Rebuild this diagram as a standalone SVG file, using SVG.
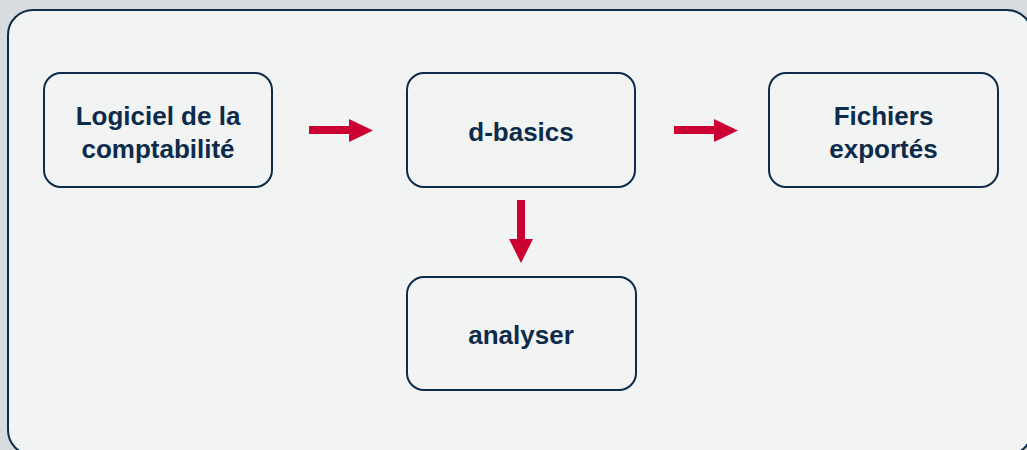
<svg xmlns="http://www.w3.org/2000/svg" width="1027" height="450" viewBox="0 0 1027 450">
  <style>
    .frame { fill: #f2f3f3; stroke: #0d2b4a; stroke-width: 2; }
    .node { fill: #f2f3f3; stroke: #0d2b4a; stroke-width: 2; }
    .label { font-family: "Liberation Sans", Arial, sans-serif; font-weight: bold; font-size: 26px; fill: #0d2b4a; text-anchor: middle; }
    .arrow { fill: #cc0033; }
  </style>
  <rect x="0" y="0" width="1027" height="450" fill="#d9dcdf"/>
  <rect class="frame" x="8" y="10" width="1024" height="445" rx="25" ry="25"/>

  <g id="node-logiciel">
    <rect class="node" x="44" y="73" width="228" height="114" rx="17" ry="17"/>
    <text class="label" x="158" y="125">Logiciel de la</text>
    <text class="label" x="158" y="158">comptabilité</text>
  </g>
  <g id="node-dbasics">
    <rect class="node" x="407" y="73" width="228" height="114" rx="17" ry="17"/>
    <text class="label" x="521" y="141">d-basics</text>
  </g>
  <g id="node-fichiers">
    <rect class="node" x="769" y="73" width="229" height="114" rx="17" ry="17"/>
    <text class="label" x="883.5" y="125">Fichiers</text>
    <text class="label" x="883.5" y="158">exportés</text>
  </g>
  <g id="node-analyser">
    <rect class="node" x="407" y="277" width="229" height="113" rx="17" ry="17"/>
    <text class="label" x="521" y="344">analyser</text>
  </g>

  <g id="connectors">
    <polygon class="arrow" points="309,126 349,126 349,119 373,130.5 349,142 349,134 309,134"/>
    <polygon class="arrow" points="674,126 714,126 714,119 738,130.5 714,142 714,134 674,134"/>
    <polygon class="arrow" points="517,200 525,200 525,239 533,239 521,263 509,239 517,239"/>
  </g>
</svg>
